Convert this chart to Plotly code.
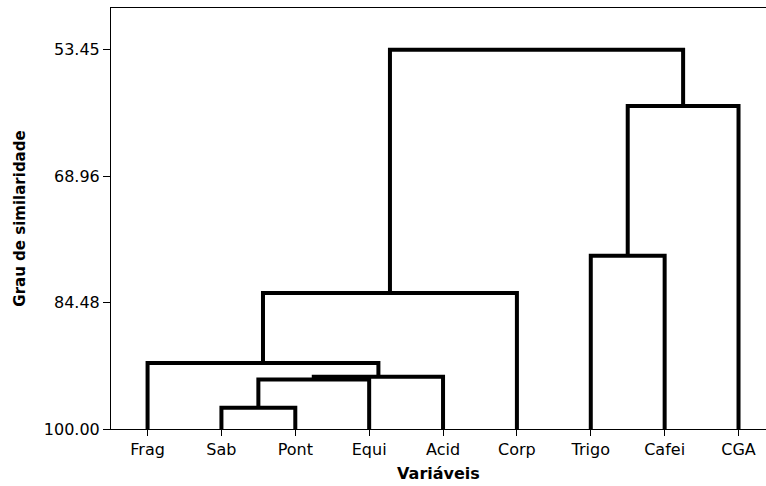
import plotly.graph_objects as go

# Leaves of the dendrogram, left to right
leaves = ["Frag", "Sab", "Pont", "Equi", "Acid", "Corp", "Trigo", "Cafei", "CGA"]

# Agglomeration steps: cluster C<n> is formed at step n by joining merge_a[n-1] and merge_b[n-1]
merge_a = ["Sab", "C1", "C2", "Frag", "C4", "Trigo", "C6", "C5"]
merge_b = ["Pont", "Equi", "Acid", "C3", "Corp", "Cafei", "CGA", "C7"]
similarity = [97.39, 93.91, 93.58, 91.90, 83.31, 78.73, 60.35, 53.45]

# Similarity axis ticks
y_ticks = [53.45, 68.96, 84.48, 100.00]

# Positions and heights of every node
pos = {name: i for i, name in enumerate(leaves)}
height = {name: 100.0 for name in leaves}

xs, ys = [], []
for step, (a, b, s) in enumerate(zip(merge_a, merge_b, similarity), start=1):
    xa, xb = pos[a], pos[b]
    xs += [xa, xa, xb, xb, None]
    ys += [height[a], s, s, height[b], None]
    node = f"C{step}"
    pos[node] = (xa + xb) / 2
    height[node] = s

fig = go.Figure(
    go.Scatter(
        x=xs, y=ys, mode="lines",
        line=dict(color="black", width=4),
        hoverinfo="skip", showlegend=False,
    )
)

fig.update_layout(
    width=766, height=486,
    margin=dict(l=111, r=0, t=8, b=57),
    paper_bgcolor="white", plot_bgcolor="white",
    font=dict(family="DejaVu Sans", size=16, color="black"),
)

fig.update_xaxes(
    range=[-0.495, 8.372],
    tickvals=list(range(len(leaves))), ticktext=leaves,
    ticks="outside", ticklen=6, tickwidth=1, tickcolor="black",
    showline=True, linecolor="black", linewidth=1, mirror=True,
    showgrid=False, zeroline=False,
    title=dict(text="<b>Variáveis</b>", font=dict(size=16), standoff=9),
)

fig.update_yaxes(
    range=[100, 48.33],
    tickvals=y_ticks, ticktext=[f"{v:.2f}" for v in y_ticks],
    ticks="outside", ticklen=7, tickwidth=1, tickcolor="black",
    showline=True, linecolor="black", linewidth=1, mirror=False,
    showgrid=False, zeroline=False,
    title=dict(text="<b>Grau de similaridade</b>", font=dict(size=15), standoff=14),
)

fig.write_html("out.html")
